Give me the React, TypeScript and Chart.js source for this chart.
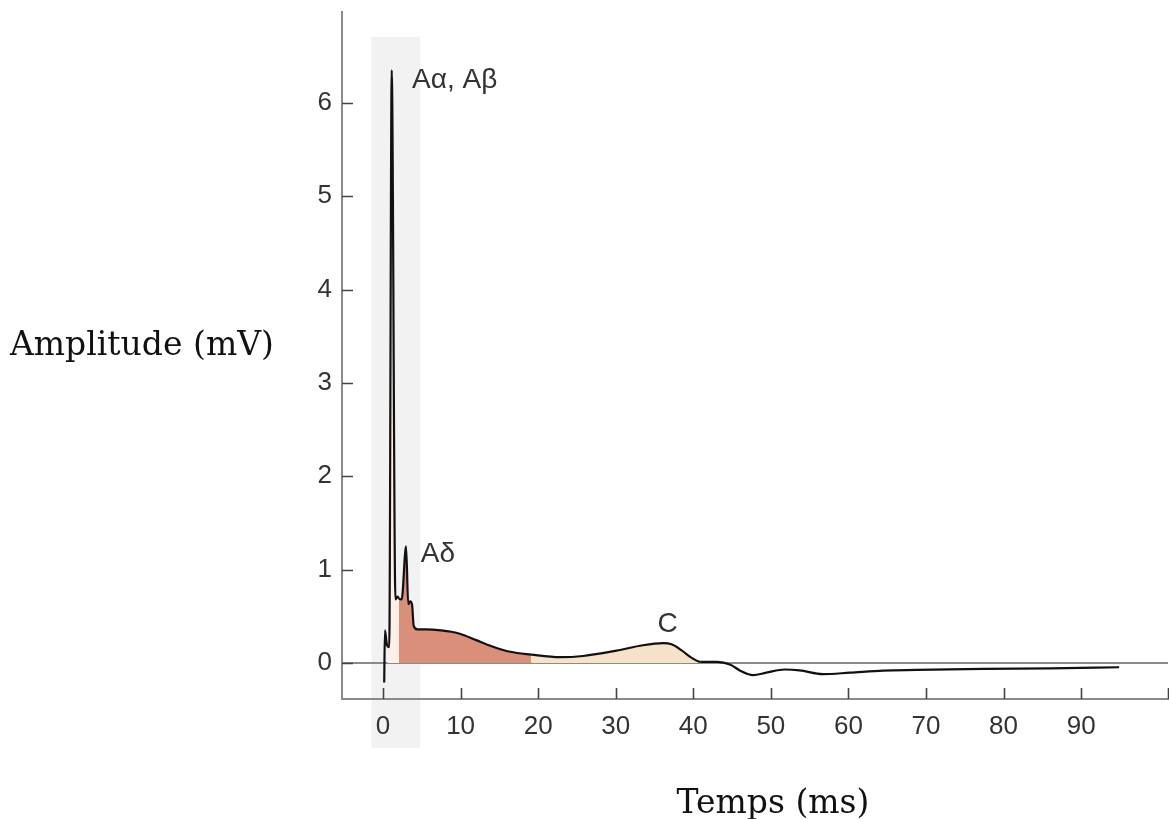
import React, { useEffect, useRef } from 'react';
import { Chart, registerables } from 'chart.js';

Chart.register(...registerables);

// Compound action potential trace (time in ms, amplitude in mV)
const timeMs = [
  0.15, 0.25, 0.45, 0.55, 0.8, 1.12, 1.6, 1.85, 2.06, 2.4, 2.97, 3.25, 3.5, 3.75, 3.95,
  4.4, 5.5, 7.5, 8.8, 10, 12, 14, 16.4, 19.1, 22.8, 25.8, 30.1, 33.5, 36.1, 37.2, 38.5, 39.8,
  40.9, 43.1, 44.8, 46, 47.7, 49.4, 51.8, 53.7, 56.7, 60.2, 64.5, 68.8, 77.4, 86, 94.9,
];
const amplitudeMv = [
  -0.21, 0.35, 0.22, 0.18, 0.17, 6.35, 0.68, 0.71, 0.69, 0.68, 1.25, 0.63, 0.66, 0.62, 0.4,
  0.36, 0.36, 0.35, 0.335, 0.31, 0.245, 0.18, 0.12, 0.09, 0.062, 0.075, 0.132, 0.19, 0.212, 0.2, 0.135, 0.055,
  0.012, 0.012, -0.02, -0.08, -0.13, -0.104, -0.07, -0.08, -0.12, -0.104, -0.082, -0.075, -0.064, -0.057, -0.046,
];

const xTickValues = [0, 10, 20, 30, 40, 50, 60, 70, 80, 90];
const yTickValues = [0, 1, 2, 3, 4, 5, 6];

// Shaded fibre-class regions under the curve
const fillStarts = [0.55, 2.06, 19.1];
const fillEnds = [2.06, 19.1, 40.9];
const fillColors = ['#fdf0e6', '#d98f7a', '#f6e1c9'];

// Grey highlighted time band
const bandTimeRange = [-1.5, 4.8];
const bandAmpRange = [-0.91, 6.71];

// Peak annotations
const peakLabels = ['Aα, Aβ', 'Aδ', 'C'];
const peakLabelTime = [3.74, 4.86, 36.7];
const peakLabelAmp = [6.16, 1.085, 0.335];

const xTitle = 'Temps (ms)';
const yTitle = 'Amplitude (mV)';

const LABEL_FONT = '28px "Liberation Sans", Arial, sans-serif';
const TITLE_FONT = '33px "DejaVu Serif", serif';

const decorPlugin = {
  id: 'decor',
  beforeDraw(chart: any) {
    const { ctx, scales } = chart;
    const x = scales.x;
    const y = scales.y;
    const l = x.getPixelForValue(bandTimeRange[0]);
    const r = x.getPixelForValue(bandTimeRange[1]);
    const t = y.getPixelForValue(bandAmpRange[1]);
    const b = y.getPixelForValue(bandAmpRange[0]);
    ctx.save();
    ctx.fillStyle = '#f2f2f2';
    ctx.fillRect(l, t, r - l, b - t);
    ctx.restore();
  },
  afterDraw(chart: any) {
    const { ctx, scales, chartArea } = chart;
    const x = scales.x;
    const y = scales.y;
    ctx.save();
    // inward tick marks
    ctx.strokeStyle = '#444';
    ctx.lineWidth = 1.6;
    ctx.beginPath();
    yTickValues.forEach((v) => {
      const py = Math.round(y.getPixelForValue(v)) + 0.5;
      ctx.moveTo(chartArea.left, py);
      ctx.lineTo(chartArea.left + 11, py);
    });
    [...xTickValues, x.max].forEach((v) => {
      const px = Math.round(x.getPixelForValue(v)) + 0.5;
      ctx.moveTo(px, chartArea.bottom);
      ctx.lineTo(px, chartArea.bottom - 11);
    });
    ctx.stroke();

    // peak labels
    ctx.fillStyle = '#333';
    ctx.font = LABEL_FONT;
    ctx.textBaseline = 'alphabetic';
    peakLabels.forEach((txt, i) => {
      ctx.textAlign = i === 2 ? 'center' : 'left';
      ctx.fillText(txt, x.getPixelForValue(peakLabelTime[i]), y.getPixelForValue(peakLabelAmp[i]));
    });

    // axis titles
    ctx.fillStyle = '#111';
    ctx.font = TITLE_FONT;
    ctx.textAlign = 'left';
    ctx.fillText(yTitle, 10, 355);
    ctx.textAlign = 'center';
    ctx.fillText(xTitle, 773, 813);
    ctx.restore();
  },
};

export default function App() {
  const ref = useRef<HTMLCanvasElement | null>(null);

  useEffect(() => {
    if (!ref.current) return;
    const points = timeMs.map((t, i) => ({ x: t, y: amplitudeMv[i] }));
    const chart = new Chart(ref.current, {
      type: 'line',
      data: {
        datasets: [
          {
            data: points,
            borderColor: '#111',
            borderWidth: 2.2,
            borderJoinStyle: 'round',
            pointRadius: 0,
            cubicInterpolationMode: 'monotone',
            fill: 'origin',
            backgroundColor: 'rgba(0,0,0,0)',
            segment: {
              backgroundColor: (c: any) => {
                const x0 = c.p0.parsed.x;
                for (let i = 0; i < fillStarts.length; i++) {
                  if (x0 >= fillStarts[i] - 1e-9 && x0 < fillEnds[i] - 1e-9) return fillColors[i];
                }
                return 'rgba(0,0,0,0)';
              },
            },
          } as any,
        ],
      },
      options: {
        responsive: false,
        animation: false,
        layout: { padding: { left: 0, top: 12, right: 1, bottom: 0 } },
        plugins: { legend: { display: false }, tooltip: { enabled: false } },
        scales: {
          x: {
            type: 'linear',
            min: -5.29,
            max: 101.2,
            afterBuildTicks: (scale: any) => {
              scale.ticks = xTickValues.map((v) => ({ value: v }));
            },
            afterFit: (scale: any) => {
              scale.height = 120;
              scale.paddingLeft = 0;
              scale.paddingRight = 0;
            },
            grid: { display: false, drawTicks: false },
            border: { display: true, color: '#8a8a8a', width: 2 },
            ticks: {
              padding: 12,
              color: '#333',
              font: { family: '"Liberation Sans", Arial, sans-serif', size: 26 },
              maxRotation: 0,
              autoSkip: false,
            },
          },
          y: {
            type: 'linear',
            min: -0.386,
            max: 6.975,
            afterBuildTicks: (scale: any) => {
              scale.ticks = yTickValues.map((v) => ({ value: v }));
            },
            afterFit: (scale: any) => {
              scale.width = 342;
              scale.paddingTop = 0;
              scale.paddingBottom = 0;
            },
            grid: {
              drawTicks: false,
              lineWidth: 2,
              color: (c: any) => (c.tick && c.tick.value === 0 ? '#8a8a8a' : 'rgba(0,0,0,0)'),
            },
            border: { display: true, color: '#8a8a8a', width: 2 },
            ticks: {
              padding: 10,
              color: '#333',
              font: { family: '"Liberation Sans", Arial, sans-serif', size: 26 },
              autoSkip: false,
            },
          },
        },
      },
      plugins: [decorPlugin],
    });
    return () => chart.destroy();
  }, []);

  return (
    <div style={{ position: 'absolute', left: 0, top: 0, width: 1169, height: 819, background: '#fff' }}>
      <canvas ref={ref} width={1169} height={819} />
    </div>
  );
}
